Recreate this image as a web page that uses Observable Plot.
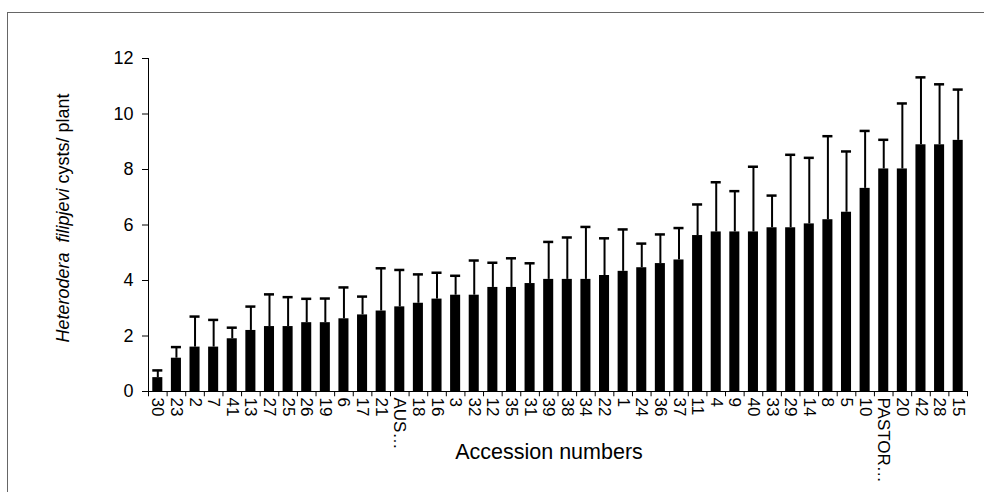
<!DOCTYPE html>
<html>
<head>
<meta charset="utf-8">
<script src="https://cdn.jsdelivr.net/npm/d3@7"></script>
<script src="https://cdn.jsdelivr.net/npm/@observablehq/plot@0.6"></script>
<style>
  html, body { margin: 0; padding: 0; background: #fff; }
  #wrap { position: relative; width: 984px; height: 492px; overflow: hidden; }
  #border { position: absolute; left: 7px; top: 12px; width: 1000px; height: 500px;
            border-left: 1px solid #666; border-top: 1px solid #666; pointer-events: none; }
  #chart { position: absolute; left: 0; top: 0; }
</style>
</head>
<body>
<div id="wrap"><div id="chart"></div><div id="border"></div></div>
<script>
// Accession numbers (x categories), in plotted order
const accessions = ["30","23","2","7","41","13","27","25","26","19","6","17","21","AUS…","18","16","3","32","12","35","31","39","38","34","22","1","24","36","37","11","4","9","40","33","29","14","8","5","10","PASTOR…","20","42","28","15"];
// Mean cysts per plant
const meanCysts = [0.5,1.2,1.6,1.6,1.9,2.2,2.34,2.34,2.48,2.48,2.62,2.76,2.9,3.05,3.18,3.33,3.47,3.47,3.75,3.75,3.89,4.04,4.04,4.04,4.18,4.33,4.46,4.61,4.74,5.62,5.75,5.75,5.75,5.9,5.9,6.04,6.19,6.46,7.32,8.02,8.02,8.89,8.89,9.05];
// Upper end of the error bar (mean + SD)
const errorTop = [0.76,1.6,2.7,2.58,2.3,3.06,3.5,3.4,3.34,3.35,3.75,3.42,4.44,4.38,4.22,4.28,4.17,4.72,4.64,4.8,4.62,5.39,5.55,5.93,5.52,5.84,5.33,5.66,5.89,6.74,7.54,7.22,8.1,7.06,8.53,8.42,9.2,8.65,9.39,9.07,10.38,11.32,11.07,10.88];
const yTicks = [0,2,4,6,8,10,12];
const yLabelItalic = "Heterodera  filipjevi";
const yLabelRest = " cysts/ plant";
const xLabel = "Accession numbers";

const data = accessions.map((a, i) => ({acc: a, mean: meanCysts[i], top: errorTop[i]}));

const W = 984, H = 492, ML = 148, MR = 17, MT = 58, MB = 101;
const step = (W - ML - MR) / accessions.length;
const font = "'Liberation Sans', Arial, Helvetica, sans-serif";

const chart = Plot.plot({
  width: W, height: H,
  marginLeft: ML, marginRight: MR, marginTop: MT, marginBottom: MB,
  style: {fontFamily: font, fontSize: "16px", color: "black", background: "transparent", overflow: "visible"},
  x: {domain: accessions, paddingInner: 0.46, paddingOuter: 0.23, round: false},
  y: {domain: [0, 12]},
  marks: [
    Plot.barY(data, {x: "acc", y: "mean", fill: "black"}),
    Plot.ruleX(data, {x: "acc", y1: "mean", y2: "top", stroke: "black", strokeWidth: 2}),
    Plot.tickY(data, {x: "acc", y: "top", stroke: "black", strokeWidth: 2.5}),
    Plot.frame({anchor: "left", stroke: "black"}),
    Plot.ruleY([0], {stroke: "black", strokeWidth: 1}),
    // category boundary ticks below the x axis
    Plot.ruleX(accessions, {x: d => d, y1: 0, y2: -0.19, dx: -step / 2, stroke: "black"}),
    Plot.ruleX(accessions.slice(-1), {x: d => d, y1: 0, y2: -0.19, dx: step / 2, stroke: "black"}),
    Plot.axisY({ticks: yTicks, tickSize: 6, tickPadding: 9, label: null, stroke: "black"}),
    Plot.axisX({tickSize: 0, tickRotate: 90, tickPadding: 6, label: null})
  ]
});
document.getElementById("chart").appendChild(chart);

const svg = d3.select(chart);
svg.selectAll('[aria-label="y-axis tick label"]').attr("font-size", 18).selectAll("text").style("font-size", "18px");
svg.selectAll('[aria-label="x-axis tick label"]').attr("font-size", 17).selectAll("text").style("font-size", "17px");
// y axis title with italic species name
const yt = svg.append("text")
  .attr("transform", "translate(69,218) rotate(-90)")
  .attr("text-anchor", "middle")
  .attr("font-family", font)
  .attr("font-size", 18)
  .attr("fill", "black");
yt.append("tspan").attr("font-style", "italic").style("white-space", "pre").text(yLabelItalic);
yt.append("tspan").style("white-space", "pre").text(yLabelRest);
// x axis title
svg.append("text")
  .attr("x", 549).attr("y", 459)
  .attr("text-anchor", "middle")
  .attr("font-family", font)
  .attr("font-size", 21.5)
  .attr("fill", "black")
  .text(xLabel);
</script>
</body>
</html>
